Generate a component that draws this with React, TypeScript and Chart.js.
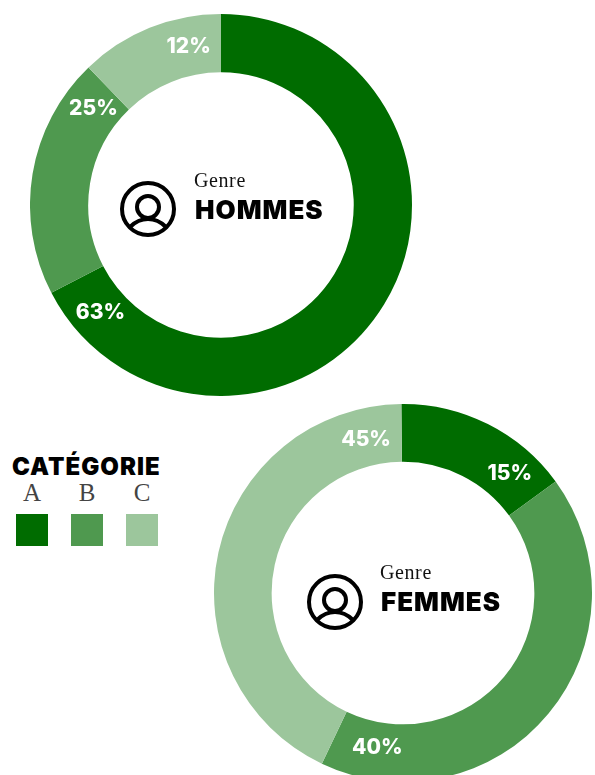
import React, { useEffect, useRef } from "react";
import { Chart, registerables } from "chart.js";
Chart.register(...registerables);

const categories = ["A", "B", "C"];
const colors = ["#006c00", "#4f994f", "#9cc69c"];
const hommesValues = [67.4, 20.4, 12.2];
const hommesLabels = ["63%", "25%", "12%"];
const hommesLabelBack = [14.5, 9, 11.5];
const hommesLabelNudge = [0, -2, 0];
const femmesValues = [15.1, 42.1, 42.8];
const femmesLabels = ["15%", "40%", "45%"];
const femmesLabelBack = [12, 16, 13];
const femmesLabelNudge = [0, -3, -2];
const legendTitle = "CATÉGORIE";
const genreLabel = "Genre";
const heavy = "Inter, 'Open Sans', sans-serif";
const serif = "'Liberation Serif', serif";

const labelPlugin = {
  id: "endLabels",
  afterDatasetsDraw(chart: any, _a: any, opts: any) {
    const ctx = chart.ctx;
    const arcs = chart.getDatasetMeta(0).data;
    ctx.save();
    ctx.fillStyle = "#fff";
    ctx.font = `800 21px ${heavy}`;
    ctx.textAlign = "center";
    ctx.textBaseline = "middle";
    arcs.forEach((arc: any, i: number) => {
      const ang = arc.endAngle - (opts.back[i] * Math.PI) / 180;
      const r = (arc.innerRadius + arc.outerRadius) / 2 + opts.nudge[i];
      ctx.fillText(opts.labels[i], arc.x + Math.cos(ang) * r, arc.y + Math.sin(ang) * r);
    });
    ctx.restore();
  },
};

function Donut({ values, labels, back, nudge, style, rotation = 0 }: any) {
  const ref = useRef<HTMLCanvasElement>(null);
  useEffect(() => {
    const chart = new Chart(ref.current!, {
      type: "doughnut",
      data: {
        labels: categories,
        datasets: [{ data: values, backgroundColor: colors, borderWidth: 0 }],
      },
      options: {
        responsive: false,
        animation: false,
        cutout: "69.5%",
        rotation,
        layout: { padding: 0 },
        plugins: {
          legend: { display: false },
          tooltip: { enabled: false },
          endLabels: { labels, back, nudge },
        } as any,
      },
      plugins: [labelPlugin as any],
    });
    return () => chart.destroy();
  }, []);
  return (
    <canvas
      ref={ref}
      width={style.width}
      height={style.height}
      style={{ position: "absolute", display: "block", ...style }}
    />
  );
}

function Person({ x, y }: { x: number; y: number }) {
  return (
    <svg
      width={58}
      height={58}
      viewBox="-29 -29 58 58"
      style={{ position: "absolute", left: x - 29, top: y - 29 }}
    >
      <g fill="none" stroke="#000" strokeWidth={4}>
        <circle r={26} />
        <circle cx={0} cy={-2} r={11} />
        <path d="M -18 18 Q -10 10 0 10 Q 10 10 18 18" />
      </g>
    </svg>
  );
}

function CenterText({ x, y, title }: { x: number; y: number; title: string }) {
  return (
    <>
      <div style={{ position: "absolute", left: x, top: y + 1, font: `20px ${serif}`, letterSpacing: 0.6, color: "#111", lineHeight: "22px", whiteSpace: "nowrap" }}>
        {genreLabel}
      </div>
      <div style={{ position: "absolute", left: x + 1, top: y + 26, font: `900 26px ${heavy}`, letterSpacing: 1, color: "#000", lineHeight: "32px", whiteSpace: "nowrap" }}>
        {title}
      </div>
    </>
  );
}

export default function App() {
  return (
    <div style={{ position: "absolute", left: 0, top: 0, width: 595, height: 775, overflow: "hidden", background: "#fff" }}>
      <Donut values={hommesValues} labels={hommesLabels} back={hommesLabelBack} nudge={hommesLabelNudge} style={{ left: 30, top: 14, width: 382, height: 382 }} />
      <Donut values={femmesValues} labels={femmesLabels} back={femmesLabelBack} nudge={femmesLabelNudge} rotation={-0.5} style={{ left: 214, top: 404, width: 378, height: 378 }} />
      <Person x={148} y={209} />
      <Person x={335} y={602} />
      <CenterText x={194} y={168} title="HOMMES" />
      <CenterText x={380} y={560} title="FEMMES" />
      <div style={{ position: "absolute", left: 12, top: 452, font: `900 24px ${heavy}`, letterSpacing: 1, lineHeight: "30px", color: "#000", whiteSpace: "nowrap" }}>
        {legendTitle}
      </div>
      {categories.map((c, i) => (
        <React.Fragment key={c}>
          <div style={{ position: "absolute", left: 16 + i * 55, top: 479, width: 32, textAlign: "center", font: `25px ${serif}`, lineHeight: "28px", color: "#444" }}>
            {c}
          </div>
          <div style={{ position: "absolute", left: 16 + i * 55, top: 514, width: 32, height: 32, background: colors[i] }} />
        </React.Fragment>
      ))}
    </div>
  );
}
